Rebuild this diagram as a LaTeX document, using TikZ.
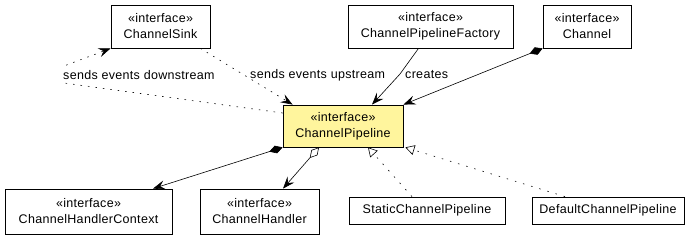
\documentclass[tikz,border=0pt]{standalone}
\usepackage{fontspec}
\setmainfont[LetterSpace=2.5]{Liberation Sans}
\usetikzlibrary{arrows.meta,calc}
\definecolor{ifacefill}{HTML}{FFF59D}

\begin{document}
\begin{tikzpicture}[x=1pt, y=-1pt,
  every node/.style={font=\fontsize{12.5}{16}\selectfont},
  iface/.style={draw, line width=0.8pt, fill=white, align=center, inner sep=0pt, minimum height=43pt},
  impl/.style={draw, line width=0.8pt, fill=white, inner sep=0pt, minimum height=27pt},
  nav/.style={-{Stealth[length=12pt,width=9pt,inset=4.5pt]}, line width=0.6pt},
  dep/.style={nav, dash pattern=on 1.5pt off 6pt},
  comp/.style={{Diamond[length=14pt,width=8pt]}-{Stealth[length=12pt,width=9pt,inset=4.5pt]}, line width=0.6pt},
  aggr/.style={{Diamond[open,length=14pt,width=8pt]}-{Stealth[length=12pt,width=9pt,inset=4.5pt]}, line width=0.6pt},
  real/.style={-{Triangle[open,length=9pt,width=10pt]}, line width=0.6pt, dash pattern=on 1.5pt off 7pt},
  lbl/.style={inner sep=1pt}
]
  \useasboundingbox (0,0) rectangle (700,237);

  % top row
  \node[iface, minimum width=99pt]  (sink)    at (160.5,26.5) {«interface»\\ChannelSink};
  \node[iface, minimum width=165pt] (factory) at (430.5,26.5) {«interface»\\ChannelPipelineFactory};
  \node[iface, minimum width=88pt]  (chan)    at (587,26.5)   {«interface»\\Channel};

  % the pipeline itself
  \node[iface, fill=ifacefill, minimum width=120pt, minimum height=42pt] (pipe) at (343,126)
    {«interface»\\ChannelPipeline};

  % bottom row
  \node[iface, minimum width=167pt, minimum height=45pt] (ctx)     at (88.5,211.5)  {«interface»\\ChannelHandlerContext};
  \node[iface, minimum width=119pt, minimum height=45pt] (handler) at (259.5,211.5) {«interface»\\ChannelHandler};
  \node[impl, minimum width=156pt] (static)  at (427,210.5) {StaticChannelPipeline};
  \node[impl, minimum width=152pt] (default) at (608,210.5) {DefaultChannelPipeline};

  % events
  \coordinate (dnlow) at (64,83);
  \coordinate (dnup)  at (64,66);
  \draw[dep] ([yshift=13pt]pipe.west) -- (dnlow) -- (dnup) -- (sink.south west);
  \node[lbl, fill=white, anchor=west] (dnlabel) at (62,75) {sends events downstream};

  \draw[dep] ([xshift=-10pt]sink.south east) -- ([xshift=10pt]pipe.north west);
  \node[lbl, anchor=west] (uplabel) at (249,75) {sends events upstream};

  % creates
  \coordinate (crbend) at (400,74);
  \draw[nav] ([xshift=-12pt]factory.south) -- (crbend) -- ([xshift=29pt]pipe.north);
  \node[lbl, anchor=west] (crlabel) at (404,75) {creates};

  % whole/part
  \draw[comp] (chan.south west) -- (pipe.north east);
  \draw[comp] (pipe.south west) -- ([xshift=64.5pt]ctx.north);
  \draw[aggr] ([xshift=-24pt]pipe.south) -- ([xshift=23.5pt]handler.north);

  % realizations
  \draw[real] ([xshift=-15pt]static.north) -- ([xshift=25pt]pipe.south);
  \draw[real] ([xshift=-43pt]default.north) -- ([xshift=2pt]pipe.south east);
\end{tikzpicture}
\end{document}
